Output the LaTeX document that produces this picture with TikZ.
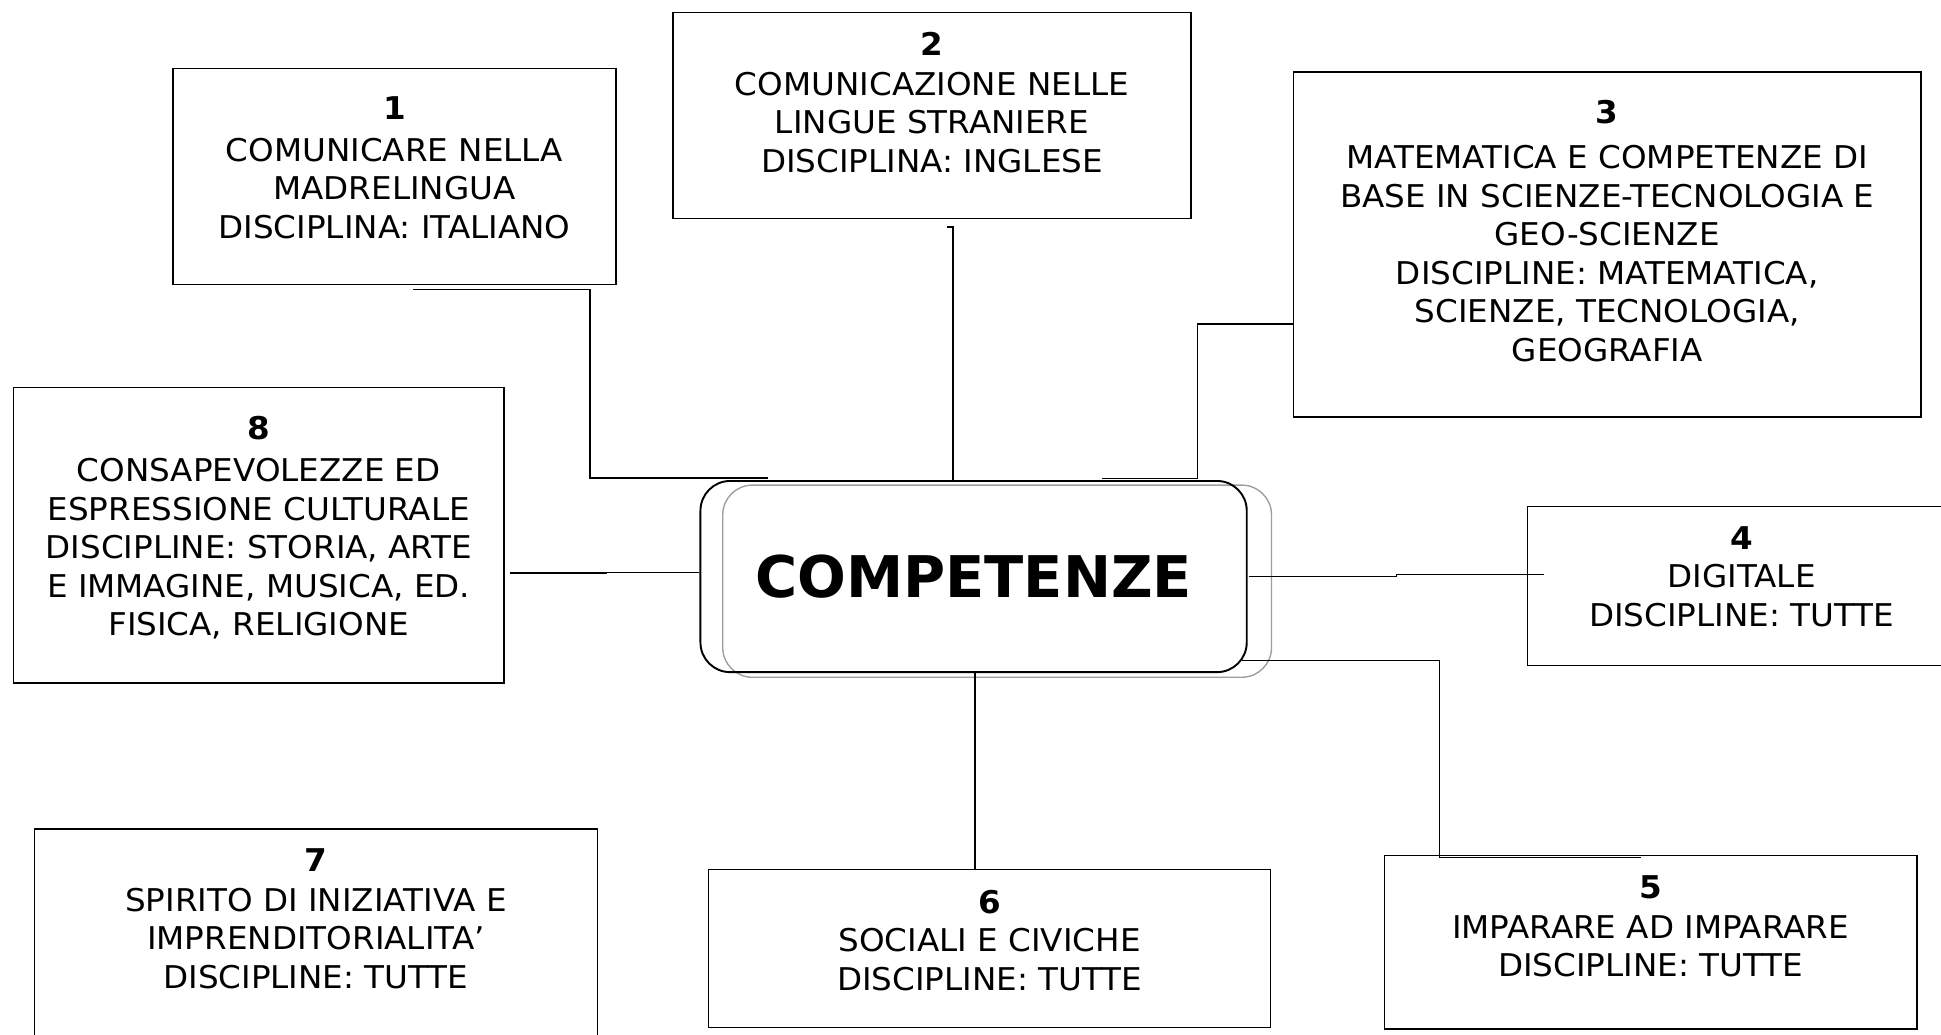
\documentclass[tikz,border=0pt]{standalone}
\usepackage{fontspec}
\setmainfont{DejaVu Sans}[FakeStretch=1.04]
\newfontfamily\titlefont{DejaVu Sans}
\usetikzlibrary{positioning}

\begin{document}
\begin{tikzpicture}[x=0.025cm,y=-0.025cm,
	box/.style={draw,line width=0.8pt,inner sep=0pt},
	txt/.style={align=center,inner sep=0pt,font=\fontsize{18}{22.1}\selectfont},
	link/.style={line width=0.8pt}]

	\definecolor{shadowcolor}{rgb}{0.62,0.62,0.62}
	\useasboundingbox (0,0) rectangle (1568,836);
	\clip (0,0) rectangle (1568,836);

	% centro
	\node(shadow)[draw,shadowcolor,line width=0.8pt,rounded corners=0.6cm,minimum width=11.08cm,minimum height=3.88cm] at (805.5,469.5) {};
	\node(comp)[draw,line width=1.1pt,rounded corners=0.6cm,minimum width=11.03cm,minimum height=3.86cm,font=\titlefont\fontsize{33}{40}\selectfont\bfseries] at (786.5,465.75) {COMPETENZE};

	% riquadri
	\node(k1)[box,minimum width=8.94cm,minimum height=4.37cm] at (318.7,142.6) {};
	\node(k2)[box,minimum width=10.46cm,minimum height=4.16cm] at (752.9,93.2) {};
	\node(k3)[box,minimum width=12.67cm,minimum height=6.96cm] at (1298.4,197.5) {};
	\node(k4)[box,minimum width=8.65cm,minimum height=3.22cm] at (1407,473.35) {};
	\node(k5)[box,minimum width=10.75cm,minimum height=3.5cm] at (1333.4,761.3) {};
	\node(k6)[box,minimum width=11.35cm,minimum height=3.19cm] at (799.4,766) {};
	\node(k7)[box,minimum width=11.36cm,minimum height=4.51cm] at (255.2,759.8) {};
	\node(k8)[box,minimum width=9.9cm,minimum height=5.97cm] at (209,432.3) {};

	\node(t1)[txt,below=0.58cm of k1.north]{\textbf{1}\\[2pt] COMUNICARE NELLA\\ MADRELINGUA\\ DISCIPLINA: ITALIANO};
	\node(t2)[txt,below=0.40cm of k2.north]{\textbf{2}\\[1pt] COMUNICAZIONE NELLE\\ LINGUE STRANIERE\\ DISCIPLINA: INGLESE};
	\node(t3)[txt,below=0.57cm of k3.north]{\textbf{3}\\[4pt] MATEMATICA E COMPETENZE DI\\ BASE IN SCIENZE-TECNOLOGIA E\\ GEO-SCIENZE\\ DISCIPLINE: MATEMATICA,\\ SCIENZE, TECNOLOGIA,\\ GEOGRAFIA};
	\node(t4)[txt,below=0.42cm of k4.north]{\textbf{4}\\ DIGITALE\\ DISCIPLINE: TUTTE};
	\node(t5)[txt,below=0.40cm of k5.north]{\textbf{5}\\[1pt] IMPARARE AD IMPARARE\\ DISCIPLINE: TUTTE};
	\node(t6)[txt,below=0.43cm of k6.north]{\textbf{6}\\ SOCIALI E CIVICHE\\ DISCIPLINE: TUTTE};
	\node(t7)[txt,below=0.40cm of k7.north]{\textbf{7}\\[1pt] SPIRITO DI INIZIATIVA E\\ IMPRENDITORIALITA’\\ DISCIPLINE: TUTTE};
	\node(t8)[txt,below=0.60cm of k8.north]{\textbf{8}\\[2pt] CONSAPEVOLEZZE ED\\ ESPRESSIONE CULTURALE\\ DISCIPLINE: STORIA, ARTE\\ E IMMAGINE, MUSICA, ED.\\ FISICA, RELIGIONE};

	% collegamenti
	\draw[link] ([shift={(14.8,3.5)}]k1.south) -| ([shift={(-88.6,-1.5)}]comp.north west) -- ([shift={(55.4,-1.5)}]comp.north west);
	\draw[link] ([shift={(12,6.3)}]k2.south) -- ++(5,0) coordinate (c2) -- (c2 |- comp.north);
	\draw[link] ([shift={(0,64.2)}]k3.west) -| ([shift={(-40.6,-1)}]comp.north east) -- ([shift={(-117.5,-1)}]comp.north east);
	\draw[link] ([shift={(1,0)}]comp.east) -- ++(119,0) |- ([shift={(14,-9.2)}]k4.west);
	\draw[link] ([shift={(-4.5,-10)}]comp.south east) -| ([shift={(-170.4,1.8)}]k5.north) -- ([shift={(-7.4,1.8)}]k5.north);
	\draw[link] ([shift={(1,0)}]comp.south) coordinate (c6) -- (c6 |- k6.north);
	\draw[link] ([shift={(4.3,30.7)}]k8.east) -- ++(77.5,0) |- ([shift={(0,-3.5)}]comp.west);

\end{tikzpicture}
\end{document}
